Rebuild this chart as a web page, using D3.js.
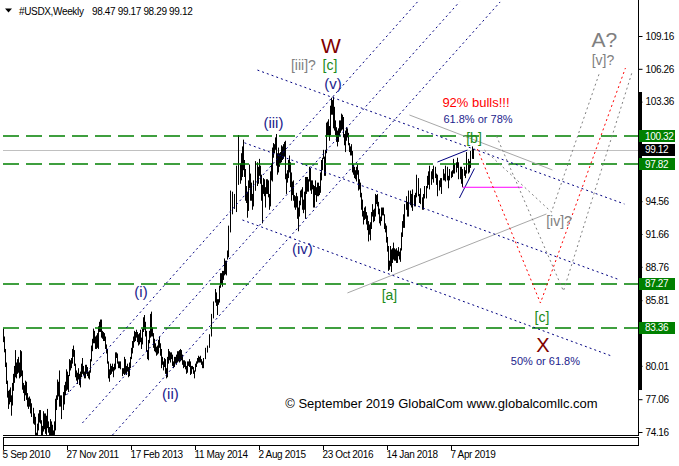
<!DOCTYPE html>
<html><head><meta charset="utf-8">
<script src="https://cdn.jsdelivr.net/npm/d3@7"></script>
<style>body{margin:0;background:#fff}svg{display:block}</style>
</head><body>
<svg id="c" width="679" height="466"></svg>
<script>
// ---------------- DATA ----------------
const symbol = "#USDX,Weekly";
const ohlcText = "98.47 99.17 98.29 99.12";
const firstWeekStr = "2010-09-05";
const priceTicks = [109.16,106.26,103.36,100.41,97.51,94.56,91.66,88.76,85.81,82.91,80.01,77.06,74.16];
const dateTicks = ["2010-09-05","2011-11-27","2013-02-17","2014-05-11","2015-08-02","2016-10-23","2018-01-14","2019-04-07"];
const levels = [100.32, 97.82, 87.27, 83.36];
const bidPrice = 99.12;
// weekly [low, high]
const w2010 = [[82.1,83.3],[81.2,82.6],[79.9,81.5],[78.4,80.3],[77.2,78.7],[76.2,77.8],[76.6,77.9],[76.8,78.1],[75.6,77.4],[76.5,78.5],[77.8,79.3],[78.5,80.0],[79.0,81.4],[78.9,80.3],[79.3,80.6],[79.4,80.8],[78.9,80.3]];
const w2011 = [[79.0,81.4],[79.1,81.3],[77.9,79.6],[77.6,78.5],[76.9,78.3],[77.4,78.7],[77.0,78.6],[76.4,77.6],[76.2,77.2],[76.4,77.3],[75.8,77.1],[75.5,76.3],[75.5,76.7],[74.9,76.3],[74.8,75.8],[73.7,75.5],[72.9,74.1],[72.7,74.9],[74.3,75.8],[75.0,76.1],[74.9,76.1],[73.6,75.2],[73.5,74.7],[74.2,76.0],[74.4,75.8],[74.0,75.8],[73.9,75.6],[74.5,76.2],[74.1,75.1],[73.4,74.6],[73.5,75.3],[73.7,75.1],[73.5,74.8],[73.4,74.3],[73.9,75.1],[74.3,77.1],[76.1,77.4],[77.0,78.8],[77.3,78.6],[77.8,79.6],[76.4,78.4],[76.4,77.4],[75.3,77.4],[76.1,77.7],[76.6,78.3],[77.4,78.6],[77.8,79.7],[77.9,79.5],[77.7,79.2],[79.1,80.6],[79.6,80.5],[79.8,80.7]];
const w2012 = [[80.2,81.5],[80.8,81.8],[80.0,81.4],[79.0,80.2],[78.7,79.6],[78.4,79.4],[78.8,79.8],[78.3,79.3],[78.1,79.5],[79.0,80.2],[79.3,80.7],[79.2,80.0],[78.9,79.5],[78.9,80.1],[79.3,80.1],[79.1,79.9],[78.9,79.5],[78.8,79.6],[79.4,80.6],[80.4,81.8],[81.3,82.4],[82.0,83.3],[82.0,83.1],[81.5,82.6],[81.5,82.7],[81.6,82.9],[81.5,83.5],[83.0,83.9],[83.0,84.1],[82.5,84.1],[82.4,83.1],[82.2,83.0],[82.2,82.9],[81.5,82.6],[81.1,81.9],[80.2,81.5],[78.9,80.4],[78.6,79.7],[79.2,80.2],[79.3,80.0],[79.5,80.2],[79.0,79.9],[79.6,80.2],[79.7,80.7],[80.2,81.2],[80.7,81.2],[80.2,81.1],[79.8,80.4],[79.8,80.4],[79.7,80.4],[79.1,79.8],[79.3,79.8],[79.2,80.8]];
const w2013 = [[79.3,80.6],[79.2,80.0],[79.5,80.2],[79.0,79.9],[79.1,80.3],[79.8,80.8],[80.6,81.6],[81.1,82.2],[81.6,82.6],[82.1,83.1],[82.2,83.0],[82.5,83.2],[82.1,83.0],[81.8,82.8],[81.9,82.9],[82.1,83.2],[81.5,82.5],[81.9,83.3],[83.0,84.3],[83.2,84.5],[82.6,83.9],[81.3,83.1],[80.6,81.4],[80.5,82.3],[82.0,83.1],[82.5,84.6],[82.6,84.8],[82.6,83.4],[81.6,82.9],[81.3,82.4],[81.2,82.0],[80.9,81.7],[81.0,81.8],[81.1,82.3],[81.6,82.6],[80.9,82.0],[79.8,81.5],[80.1,80.8],[79.6,80.4],[79.9,80.7],[79.3,80.6],[78.9,79.8],[79.0,80.8],[80.2,81.5],[80.5,81.3],[80.3,81.2],[80.6,81.2],[80.0,81.0],[79.8,80.4],[79.9,80.8],[80.2,80.8],[80.1,81.0]];
const w2014 = [[80.3,81.3],[80.4,81.3],[80.3,81.4],[80.4,81.5],[80.5,81.4],[80.1,81.0],[79.8,80.5],[79.9,80.5],[79.7,80.4],[79.3,80.0],[79.4,80.4],[80.0,80.4],[79.9,80.6],[79.2,80.4],[79.3,80.0],[79.7,80.0],[79.3,79.9],[78.9,79.6],[79.5,80.2],[79.9,80.4],[80.2,80.7],[80.3,80.9],[80.3,80.8],[80.3,80.9],[80.1,80.6],[79.8,80.4],[79.8,80.4],[80.1,80.7],[80.6,81.0],[80.9,81.6],[81.2,81.7],[81.2,81.8],[81.6,82.3],[82.1,82.8],[82.6,84.2],[83.8,84.6],[84.2,84.8],[84.6,85.7],[85.6,86.8],[85.3,86.5],[84.5,85.9],[85.4,85.9],[85.6,87.1],[86.9,88.2],[87.2,88.2],[87.0,88.4],[87.6,88.4],[88.0,89.5],[88.1,89.3],[88.0,89.3],[89.4,90.2],[89.6,91.3]];
const w2015 = [[91.0,92.4],[91.8,93.3],[92.5,95.5],[93.9,95.4],[93.4,95.0],[93.9,95.2],[93.9,94.6],[93.6,95.4],[95.1,97.7],[97.3,100.4],[96.0,100.3],[96.1,97.9],[96.4,98.8],[96.7,99.4],[97.3,100.0],[96.7,98.2],[94.6,97.4],[94.4,95.9],[93.1,95.4],[93.7,96.4],[95.7,97.8],[94.6,97.0],[94.6,96.2],[93.8,95.2],[94.1,95.7],[95.0,96.4],[95.5,96.9],[95.5,98.1],[95.9,98.0],[96.1,97.6],[96.8,98.3],[96.1,97.7],[94.6,96.9],[92.6,96.0],[95.2,96.6],[95.0,96.5],[94.0,95.8],[95.2,96.5],[95.2,96.5],[94.9,96.4],[93.8,95.2],[94.1,97.2],[96.4,97.9],[96.3,99.3],[98.4,99.7],[98.8,99.6],[99.1,100.2],[97.7,100.5],[96.9,98.8],[97.1,99.3],[97.6,98.8],[97.9,98.9]];
const w2016 = [[98.0,99.5],[98.2,99.4],[98.3,99.6],[98.5,99.8],[96.5,99.9],[95.2,97.0],[96.2,97.3],[96.6,98.2],[97.1,98.6],[95.8,98.0],[94.6,97.1],[95.1,96.3],[94.6,96.4],[94.0,95.1],[93.8,95.0],[94.0,95.3],[93.0,95.0],[91.9,94.0],[93.2,94.6],[94.2,95.5],[94.9,95.6],[93.8,95.8],[93.5,94.7],[93.8,95.4],[93.0,96.7],[95.2,96.7],[95.4,96.7],[95.4,96.5],[96.3,97.6],[95.5,97.5],[95.2,96.4],[95.6,96.4],[94.0,96.0],[94.0,95.9],[95.1,96.4],[94.5,95.8],[95.0,96.2],[95.0,96.2],[95.1,95.9],[95.3,97.1],[96.4,98.2],[97.3,98.4],[98.3,99.1],[96.8,98.5],[96.8,99.1],[98.8,101.5],[100.4,101.6],[100.4,101.8],[99.9,101.2],[100.4,103.0],[102.2,103.7],[102.2,103.5]];
const w2017 = [[101.0,103.8],[100.8,102.9],[100.4,101.7],[99.8,101.1],[99.4,100.8],[99.8,101.0],[100.3,101.7],[100.6,101.7],[100.8,102.3],[100.9,102.2],[100.2,102.0],[99.5,100.5],[98.9,100.8],[99.9,101.1],[100.2,101.0],[99.5,100.6],[98.9,99.7],[98.6,99.4],[98.6,99.6],[97.1,99.0],[96.9,97.8],[96.6,97.6],[96.5,97.3],[96.3,97.6],[96.9,97.8],[95.5,97.3],[95.6,96.5],[94.9,96.2],[93.8,95.3],[93.2,94.7],[92.5,93.7],[92.9,94.0],[93.0,94.1],[92.5,93.6],[92.0,93.3],[91.0,92.8],[91.6,92.5],[91.1,92.7],[92.1,93.6],[93.2,94.3],[92.7,93.8],[92.8,93.9],[93.2,95.2],[94.3,95.1],[94.1,95.2],[93.4,94.5],[92.6,93.9],[92.4,93.2],[92.8,94.0],[93.3,94.0],[93.3,94.0],[92.1,93.4],[91.8,92.6]];
const w2018 = [[90.9,92.4],[90.1,91.4],[88.4,90.6],[88.5,89.3],[88.8,90.6],[88.3,90.3],[89.1,90.4],[89.4,90.9],[89.3,90.4],[89.3,90.3],[89.1,90.4],[89.1,90.2],[89.7,90.5],[89.4,90.1],[89.2,90.4],[90.2,91.8],[91.4,92.8],[92.2,93.4],[92.2,93.6],[93.0,94.3],[93.8,95.0],[93.2,94.5],[93.2,95.2],[94.2,95.5],[94.2,95.5],[94.0,95.2],[93.7,95.1],[94.2,95.6],[94.1,95.1],[94.1,95.3],[94.9,96.4],[95.9,96.9],[95.0,96.6],[94.4,95.2],[94.8,95.7],[94.3,95.3],[93.8,94.9],[93.8,95.2],[94.9,95.7],[94.8,95.9],[94.8,95.9],[95.7,96.8],[96.0,97.2],[95.6,97.0],[96.3,97.7],[96.0,97.2],[96.5,97.4],[96.2,97.4],[96.8,97.7],[96.6,97.6],[96.0,97.0],[95.6,96.9]];
const w2019 = [[95.0,96.4],[95.5,96.4],[95.8,96.6],[95.2,96.0],[95.7,96.6],[96.4,97.4],[96.4,97.0],[96.3,96.9],[96.7,97.7],[96.4,97.6],[95.7,96.8],[96.4,97.4],[96.7,97.4],[96.6,97.2],[96.7,97.3],[97.0,98.3],[97.2,97.9],[97.0,97.8],[97.1,98.0],[97.5,98.4],[97.5,98.0],[96.5,97.8],[96.5,97.6],[96.1,97.6],[95.8,96.3],[96.0,97.4],[96.8,97.6],[96.6,97.3],[97.0,97.9],[97.6,98.9],[97.0,98.3],[97.1,98.1],[97.5,98.5],[97.8,99.0],[98.3,99.4],[98.29,99.17]];

// trend lines [date, price]
const risingChannel = [
  [["2011-11-23",77.43],["2018-08-15",112.17]],
  [["2012-03-14",74.96],["2019-06-05",112.17]],
  [["2012-10-10",73.89],["2020-03-16",112.17]]
];
const fallingChannel = [
  [["2015-07-22",106.15],["2022-08-03",94.31]],
  [["2015-04-22",99.72],["2022-06-15",87.68]],
  [["2015-04-08",92.90],["2022-05-04",80.88]]
];
const grayLines = [
  [["2018-06-20",102.18],["2021-03-17",97.32]],
  [["2017-04-12",86.45],["2021-02-03",93.43]]
];
const navySegments = [
  [["2019-01-02",98.02],["2019-07-31",99.08]],
  [["2019-06-05",94.84],["2019-09-18",97.45]]
];
const magentaSegment = [["2019-06-26",95.79],["2020-08-19",95.79]];
const redPath = [["2019-10-09",99.17],["2020-12-23",85.56],["2022-08-10",106.33]];
const grayPaths = [
  [["2020-02-19",100.32],["2021-06-02",86.62],["2022-09-28",106.06]],
  [["2019-11-27",99.08],["2021-03-10",93.60],["2022-02-09",105.89]]
];
const scrollBar = [104.21, 77.87];

const labels = [
  {t:"W", d:"2016-12-18", p:107.66, c:"#800000", s:21},
  {t:"[iii]?", d:"2016-06-08", p:106.15, c:"#808080", s:14},
  {t:"[c]", d:"2016-12-11", p:106.15, c:"#1a8a1a", s:14},
  {t:"(v)", d:"2017-01-01", p:104.47, c:"#1c1c8c", s:15},
  {t:"(iii)", d:"2015-11-11", p:101.03, c:"#1c1c8c", s:15},
  {t:"(iv)", d:"2016-06-01", p:89.89, c:"#1c1c8c", s:15},
  {t:"(i)", d:"2013-04-28", p:86.09, c:"#1c1c8c", s:15},
  {t:"(ii)", d:"2013-11-20", p:77.07, c:"#1c1c8c", s:15},
  {t:"[a]", d:"2018-01-31", p:85.83, c:"#1a8a1a", s:14},
  {t:"[b]", d:"2019-09-15", p:99.70, c:"#1a8a1a", s:14},
  {t:"[c]", d:"2021-01-03", p:83.88, c:"#1a8a1a", s:14},
  {t:"X", d:"2021-01-10", p:81.20, c:"#800000", s:20},
  {t:"50% or 61.8%", d:"2021-01-27", p:80.08, c:"#1c1c8c", s:11},
  {t:"92% bulls!!!", d:"2019-09-29", p:102.88, c:"#ff0000", s:13},
  {t:"61.8% or 78%", d:"2019-10-13", p:101.47, c:"#1c1c8c", s:11},
  {t:"[iv]?", d:"2021-05-02", p:92.37, c:"#808080", s:14},
  {t:"A?", d:"2022-03-16", p:108.19, c:"#808080", s:21},
  {t:"[v]?", d:"2022-03-06", p:106.60, c:"#808080", s:14},
  {t:"\u00A9 September 2019 GlobalCom www.globalcomllc.com", d:"2019-01-30", p:76.28, c:"#000000", s:13}
];

// ---------------- CHART ----------------
const svg = d3.select("#c");
const parse = d3.utcParse("%Y-%m-%d");
const firstWeek = parse(firstWeekStr);
const allWeeks = [].concat(w2010,w2011,w2012,w2013,w2014,w2015,w2016,w2017,w2018,w2019);
const bars = allWeeks.map((d,i)=>({date:d3.utcWeek.offset(firstWeek,i), lo:d[0], hi:d[1]}));

const x = d3.scaleTime().domain([firstWeek, d3.utcWeek.offset(firstWeek,100)]).range([3,103]);
const y = d3.scaleLinear().domain([74.16,109.16]).range([432,36]);
const px = d => Math.floor(x(d))+0.5;

// font detection
const probe = svg.append("text").attr("x",-999).attr("y",-999).text("27 Nov 2011 109.16");
probe.style("font-family","Liberation Sans").style("font-size","11px");
const wReg = probe.node().getComputedTextLength();
probe.style("font-family","'Liberation Sans Narrow', 'Liberation Sans'");
const wNar = probe.node().getComputedTextLength();
probe.remove();
const hasNarrow = wNar < wReg*0.92;
const uiFont = hasNarrow ? "'Liberation Sans Narrow'" : "'Liberation Sans'";
const uiSize = hasNarrow ? "11px" : "10px";
const uiSpacing = hasNarrow ? "0px" : "-0.35px";
const annFont = "'Liberation Sans', Arial, sans-serif";
function ui(sel){ return sel.style("font-family",uiFont).style("font-size",uiSize).style("letter-spacing",uiSpacing); }

svg.append("defs").append("clipPath").attr("id","clip")
  .append("rect").attr("x",3).attr("y",0).attr("width",635).attr("height",435);

const plot = svg.append("g").attr("clip-path","url(#clip)");

// bid line
plot.append("line").attr("x1",3).attr("x2",638).attr("y1",Math.round(y(bidPrice))+0.5).attr("y2",Math.round(y(bidPrice))+0.5)
  .attr("stroke","#c0c0c0").attr("stroke-width",1);

// bars
plot.append("g").selectAll("line").data(bars).join("line")
  .attr("x1",d=>px(d.date)).attr("x2",d=>px(d.date))
  .attr("y1",d=>y(d.hi)).attr("y2",d=>y(d.lo))
  .attr("stroke","#000").attr("stroke-width",1);

// green levels
plot.append("g").selectAll("line").data(levels).join("line")
  .attr("x1",3).attr("x2",638)
  .attr("y1",d=>Math.round(y(d))).attr("y2",d=>Math.round(y(d)))
  .attr("stroke","#008000").attr("stroke-width",1.6).attr("stroke-dasharray","16,7");

const line = d3.line().x(d=>x(parse(d[0]))).y(d=>y(d[1]));
function drawSet(set, color, dash, w){
  plot.append("g").selectAll("path").data(set).join("path")
    .attr("d",line).attr("fill","none").attr("stroke",color)
    .attr("stroke-width",w||1).attr("stroke-dasharray",dash);
}
drawSet(grayLines,"#a8a8a8",null,1);
drawSet(risingChannel,"#000080","2,3",1);
drawSet(fallingChannel,"#000080","2,3",1);
drawSet(navySegments,"#000080",null,1);
drawSet([magentaSegment],"#ff00ff",null,1);
drawSet(grayPaths,"#808080","2,3",1);
drawSet([redPath],"#ff0000","2,3",1);

// annotations
plot.append("g").selectAll("text").data(labels).join("text")
  .attr("x",d=>x(parse(d.d))).attr("y",d=>y(d.p))
  .attr("text-anchor","middle").attr("fill",d=>d.c)
  .style("font-family",annFont).style("font-size",d=>d.s+"px")
  .text(d=>d.t);

// frame
svg.append("line").attr("x1",3).attr("x2",639).attr("y1",435.5).attr("y2",435.5).attr("stroke","#000");
svg.append("line").attr("x1",638.5).attr("x2",638.5).attr("y1",0).attr("y2",436).attr("stroke","#000");
svg.append("rect").attr("x",3.5).attr("y",437.5).attr("width",635).attr("height",8).attr("fill","none").attr("stroke","#000");
svg.append("rect").attr("x",638).attr("y",y(scrollBar[0])).attr("width",4).attr("height",y(scrollBar[1])-y(scrollBar[0])).attr("fill","#000");

// right axis (tick labels hidden under level labels are not printed)
const covered = v => levels.concat([bidPrice]).some(l => Math.abs(y(l)-y(v)) < 11);
const ya = svg.append("g").attr("transform","translate(638.5,0)")
  .call(d3.axisRight(y).tickValues(priceTicks).tickSize(4).tickPadding(3)
    .tickFormat(v => covered(v) ? "" : d3.format(".2f")(v)));
ya.select(".domain").remove();
ui(ya.selectAll("text")).attr("fill","#000");

// level labels
const lab = svg.append("g");
function priceTag(v, fill){
  lab.append("rect").attr("x",639).attr("y",Math.round(y(v))-6).attr("width",36).attr("height",12).attr("fill",fill);
  ui(lab.append("text").attr("x",645).attr("y",y(v)).attr("dy","0.35em").attr("fill","#fff")).text(v.toFixed(2));
}
levels.forEach(v=>priceTag(v,"#008000"));
priceTag(bidPrice,"#000");

// bottom axis
const xa = svg.append("g").attr("transform","translate(0,446)")
  .call(d3.axisBottom(x).tickValues(dateTicks.map(parse)).tickSize(4).tickPadding(1).tickFormat(d3.utcFormat("%-d %b %Y")));
xa.select(".domain").remove();
xa.selectAll(".tick").attr("transform",d=>`translate(${px(d)},0)`);
ui(xa.selectAll("text").attr("text-anchor","start").attr("x",-1)).attr("fill","#000");

// title
svg.append("path").attr("d","M5,8.5L12,8.5L8.5,12.5Z").attr("fill","#000");
ui(svg.append("text").attr("x",19).attr("y",15)).text(symbol);
ui(svg.append("text").attr("x",92).attr("y",15)).text(ohlcText);
</script>
</body></html>
